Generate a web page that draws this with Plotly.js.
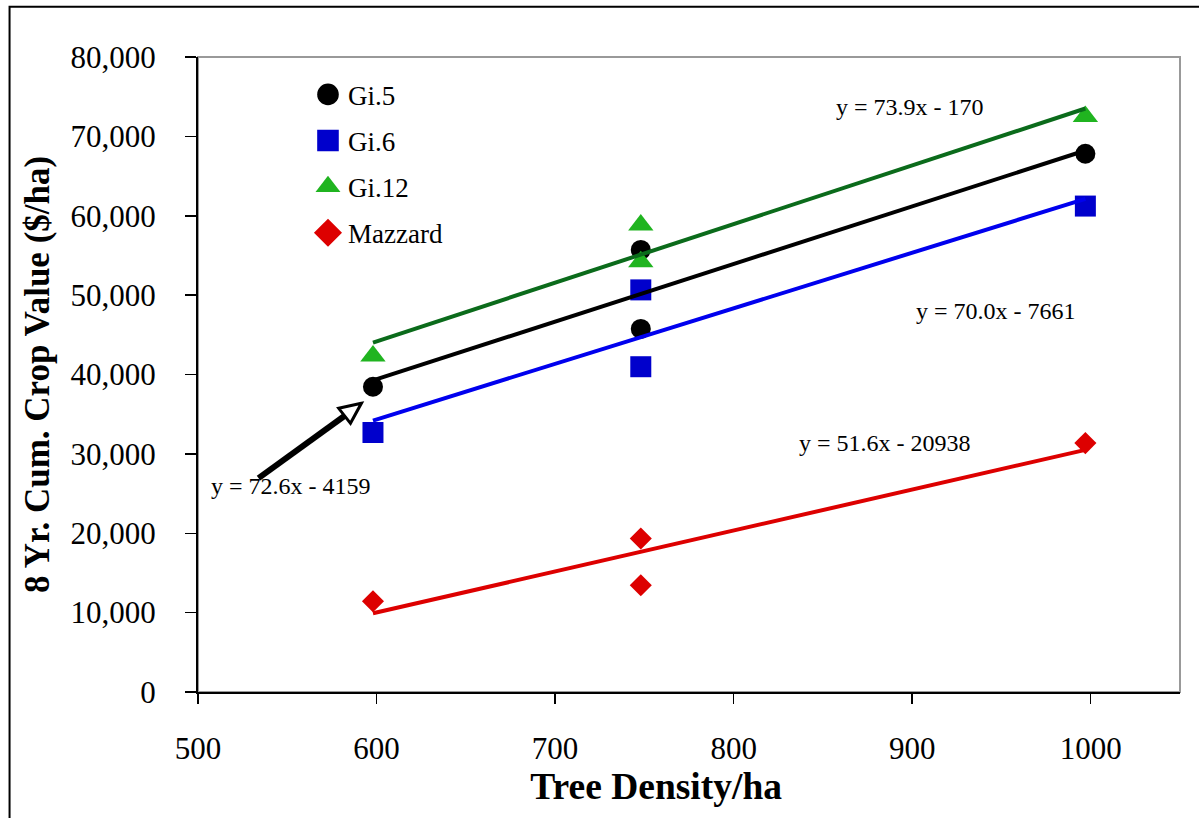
<!DOCTYPE html>
<html>
<head>
<meta charset="utf-8">
<script src="https://cdn.plot.ly/plotly-3.0.1.min.js"></script>
<style>
  html, body { margin: 0; padding: 0; background: #ffffff; }
  #chart { width: 1199px; height: 818px; }
</style>
</head>
<body>
<div id="chart"></div>
<script>
// ---- data ----
const seriesNames = ["Gi.5", "Gi.6", "Gi.12", "Mazzard"];
const densityX = [598, 748, 748, 997];
const gi5Values = [38460, 55700, 45740, 67810];
const gi6Values = [32690, 50660, 40980, 61220];
const gi12Values = [42330, 58850, 54190, 72510];
const mazzardValues = [11440, 19340, 13450, 31360];

const trendX = [598, 997];
const gi5Trend = [39260, 68220];
const gi6Trend = [34200, 62130];
const gi12Trend = [44020, 73510];
const mazzardTrend = [9920, 30510];

const equationLabels = ["y = 72.6x - 4159", "y = 70.0x - 7661", "y = 73.9x - 170", "y = 51.6x - 20938"];

const xTickVals = [500, 600, 700, 800, 900, 1000];
const yTickVals = [0, 10000, 20000, 30000, 40000, 50000, 60000, 70000, 80000];

// ---- styling ----
const FONT = "Liberation Serif, Times New Roman, serif";
const markerColors = ["#000000", "#0000CC", "#20B420", "#DD0000"];
const lineColors = ["#000000", "#0000EE", "#0B6B1B", "#DD0000"];
const symbols = ["circle", "square", "triangle-up", "diamond"];
const sizes = [20, 21, 22, 17];
const values = [gi5Values, gi6Values, gi12Values, mazzardValues];
const trends = [gi5Trend, gi6Trend, gi12Trend, mazzardTrend];

const traces = [];
for (let i = 0; i < 4; i++) {
  traces.push({
    type: "scatter", mode: "markers",
    name: seriesNames[i], legendgroup: "g" + i,
    x: densityX, y: values[i],
    marker: { symbol: symbols[i], size: sizes[i], color: markerColors[i], line: { width: 0 } },
    hoverinfo: "x+y+name"
  });
}
for (let i = 0; i < 4; i++) {
  traces.push({
    type: "scatter", mode: "lines",
    name: seriesNames[i] + " trend", legendgroup: "g" + i, showlegend: false,
    x: trendX, y: trends[i],
    line: { color: lineColors[i], width: 4 },
    hoverinfo: "skip"
  });
}

const annFont = { family: FONT, size: 24, color: "#000" };
const NB = "&nbsp;";
const layout = {
  width: 1199, height: 818,
  margin: { l: 197.5, r: 19, t: 57, b: 126, pad: 0 },
  paper_bgcolor: "#ffffff", plot_bgcolor: "#ffffff",
  font: { family: FONT, color: "#000" },
  showlegend: true,
  legend: {
    x: 0.112, y: 0.979, xanchor: "left", yanchor: "top",
    font: { family: FONT, size: 27, color: "#000" },
    bgcolor: "rgba(0,0,0,0)", borderwidth: 0,
    traceorder: "grouped", tracegroupgap: 8,
    itemsizing: "trace"
  },
  xaxis: {
    range: [500, 1050], tickvals: xTickVals, ticktext: xTickVals.map(String),
    showgrid: false, zeroline: false,
    showline: true, linecolor: "#000", linewidth: 2,
    ticks: "outside", ticklen: 10, tickwidth: 1.5, tickcolor: "#000",
    tickfont: { family: FONT, size: 31, color: "#000" },
    ticklabelstandoff: 18,
    title: { text: "<b>Tree Density/ha</b>" + NB.repeat(7), font: { family: FONT, size: 37.5, color: "#000" }, standoff: 8 },
    automargin: false
  },
  yaxis: {
    range: [0, 80000], tickvals: yTickVals,
    tickformat: ",",
    showgrid: false, zeroline: false,
    showline: true, linecolor: "#000", linewidth: 2,
    ticks: "outside", ticklen: 11, tickwidth: 1.5, tickcolor: "#000",
    tickfont: { family: FONT, size: 31, color: "#000" },
    ticklabelstandoff: 23,
    title: { text: "<b>8 Yr. Cum. Crop Value ($/ha)</b>", font: { family: FONT, size: 35, color: "#000" }, standoff: 10 },
    automargin: false
  },
  annotations: [
    { text: equationLabels[2], x: 898.5, y: 73740, xref: "x", yref: "y", showarrow: false, font: annFont, xanchor: "center", yanchor: "middle" },
    { text: equationLabels[1], x: 947.0, y: 48020, xref: "x", yref: "y", showarrow: false, font: annFont, xanchor: "center", yanchor: "middle" },
    { text: equationLabels[3], x: 884.7, y: 31360, xref: "x", yref: "y", showarrow: false, font: annFont, xanchor: "center", yanchor: "middle" },
    { text: equationLabels[0], x: 552.3, y: 25940, xref: "x", yref: "y", showarrow: false, font: annFont, xanchor: "center", yanchor: "middle" }
  ],
  shapes: [
    // gray plot frame (top and right)
    { type: "rect", xref: "paper", yref: "paper", x0: 0, x1: 1, y0: 0, y1: 1,
      line: { color: "#999999", width: 2 }, fillcolor: "rgba(0,0,0,0)", layer: "below" },
    // outer figure frame (top and left visible)
    { type: "rect", xref: "paper", yref: "paper", x0: -0.1919, x1: 1.05, y0: -0.25, y1: 1.0793,
      line: { color: "#000", width: 2 }, fillcolor: "rgba(0,0,0,0)", layer: "above" },
    // arrow shaft
    { type: "line", xref: "x", yref: "y", x0: 533.9, y0: 26950, x1: 582.0, y1: 34770,
      line: { color: "#000", width: 6 }, layer: "above" },
    // open arrow head
    { type: "path", xref: "x", yref: "y",
      path: "M 591.5 36370 L 578.8 35740 L 585.4 33850 Z",
      line: { color: "#000", width: 3 }, fillcolor: "#ffffff", layer: "above" }
  ]
};

Plotly.newPlot("chart", traces, layout, { displayModeBar: false, staticPlot: true }).then(function () {
  // enlarge legend symbols to match the plotted marker size
  document.querySelectorAll("#chart .legend .legendpoints path.scatterpts").forEach(function (p) {
    const t = p.getAttribute("transform") || "";
    p.setAttribute("transform", t + " scale(1.35)");
  });
});
</script>
</body>
</html>
